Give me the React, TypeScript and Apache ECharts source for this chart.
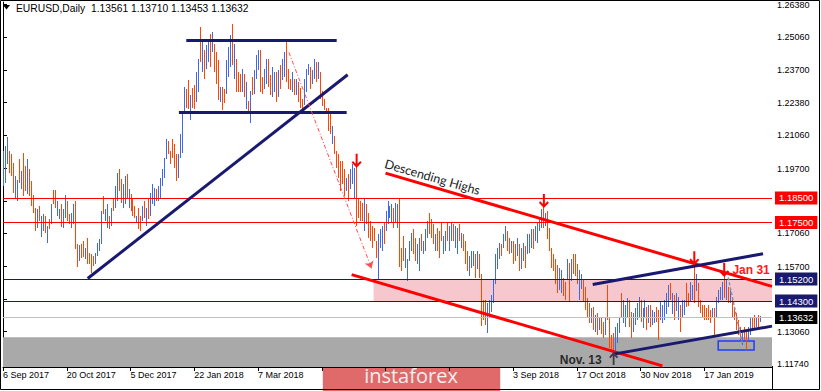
import React, { useEffect, useRef } from "react";
import * as echarts from "echarts";

// ---- Data (daily EURUSD bars, index = trading day) ----
const highs = [
  1.2041,1.2061,1.2097,1.2041,1.2028,1.1992,1.1939,1.1923,1.2008,1.1960,
  1.2032,1.1980,1.2008,1.1968,1.1919,1.1862,1.1810,1.1806,1.1818,1.1777,
  1.1785,1.1777,1.1737,1.1765,1.1826,1.1883,1.1883,1.1838,1.1806,1.1826,
  1.1806,1.1862,1.1838,1.1785,1.1789,1.1826,1.1838,1.1664,1.1660,1.1664,
  1.1676,1.1648,1.1688,1.1627,1.1623,1.1615,1.1627,1.1668,1.1684,1.1798,
  1.1858,1.1806,1.1826,1.1777,1.1810,1.1850,1.1899,1.1951,1.1968,1.1927,
  1.1907,1.1939,1.1947,1.1887,1.1866,1.1850,1.1818,1.1777,1.1810,1.1777,
  1.1818,1.1838,1.1810,1.1846,1.1870,1.1907,1.1891,1.1887,1.1899,1.1931,
  1.1968,1.2012,1.2089,1.2081,1.2041,1.2089,1.2069,1.2028,1.2028,1.2109,
  1.2190,1.2300,1.2292,1.2332,1.2271,1.2296,1.2312,1.2365,1.2417,1.2547,
  1.2486,1.2454,1.2474,1.2498,1.2518,1.2527,1.2478,1.2446,1.2413,1.2304,
  1.2304,1.2292,1.2413,1.2466,1.2514,1.2559,1.2478,1.2417,1.2365,1.2356,
  1.2377,1.2356,1.2324,1.2243,1.2284,1.2344,1.2373,1.2433,1.2454,1.2454,
  1.2344,1.2377,1.2417,1.2417,1.2352,1.2385,1.2365,1.2365,1.2373,1.2393,
  1.2417,1.2446,1.2486,1.2377,1.2336,1.2365,1.2336,1.2336,1.2324,1.2296,
  1.2255,1.2336,1.2377,1.2397,1.2385,1.2373,1.2417,1.2405,1.2405,1.2365,
  1.2284,1.2255,1.2215,1.2215,1.2190,1.2142,1.2101,1.2041,1.2028,1.2000,
  1.2000,1.1968,1.1931,1.1947,1.1968,1.1988,1.1972,1.1992,1.1850,1.1838,
  1.1830,1.1846,1.1826,1.1789,1.1757,1.1737,1.1729,1.1676,1.1704,1.1725,
  1.1737,1.1749,1.1798,1.1838,1.1818,1.1826,1.1810,1.1830,1.1826,1.1850,
  1.1648,1.1696,1.1648,1.1603,1.1676,1.1708,1.1725,1.1688,1.1664,1.1688,
  1.1704,1.1676,1.1725,1.1757,1.1789,1.1765,1.1745,1.1704,1.1729,1.1717,
  1.1749,1.1696,1.1717,1.1749,1.1737,1.1749,1.1745,1.1737,1.1729,1.1745,
  1.1708,1.1704,1.1676,1.1636,1.1615,1.1636,1.1636,1.1623,1.1636,1.1623,
  1.1542,1.1433,1.1433,1.1421,1.1433,1.1453,1.1514,1.1623,1.1648,1.1668,
  1.1664,1.1704,1.1737,1.1717,1.1688,1.1676,1.1676,1.1664,1.1688,1.1664,
  1.1648,1.1668,1.1656,1.1704,1.1704,1.1725,1.1725,1.1737,1.1749,1.1769,
  1.1806,1.1818,1.1789,1.1798,1.1729,1.1648,1.1623,1.1603,1.1575,1.1563,
  1.1555,1.1526,1.1506,1.1603,1.1587,1.1603,1.1623,1.1623,1.1583,1.1555,
  1.1542,1.1522,1.1486,1.1441,1.1421,1.1401,1.1405,1.1372,1.1380,1.1364,
  1.1360,1.1344,1.1364,1.1494,1.1364,1.1291,1.1299,1.1324,1.1340,1.1364,
  1.1465,1.1433,1.1413,1.1441,1.1433,1.1384,1.1380,1.1401,1.1421,1.1445,
  1.1433,1.1401,1.1433,1.1405,1.1413,1.1413,1.1393,1.1384,1.1405,1.1393,
  1.1425,1.1413,1.1433,1.1465,1.1494,1.1502,1.1465,1.1453,1.1465,1.1445,
  1.1413,1.1433,1.1433,1.1502,1.1465,1.1506,1.1494,1.1587,1.1542,1.1502,
  1.1433,1.1413,1.1413,1.1401,1.1413,1.1393,1.1401,1.1401,1.1445,1.1474,
  1.1486,1.1506,1.1542,1.1514,1.1486,1.1474,1.1445,1.1405,1.1380,1.1352,
  1.1324,1.1299,1.1324,1.1303,1.1324,1.1360,1.1364,1.1372,1.1360,1.1372,
  1.1371,
];

const lows = [
  1.1899,1.1911,1.1988,1.1951,1.1939,1.1870,1.1846,1.1838,1.1911,1.1887,
  1.1858,1.1879,1.1866,1.1858,1.1818,1.1789,1.1717,1.1729,1.1757,1.1692,
  1.1717,1.1708,1.1668,1.1725,1.1745,1.1826,1.1810,1.1777,1.1765,1.1733,
  1.1729,1.1769,1.1757,1.1745,1.1729,1.1745,1.1644,1.1571,1.1595,1.1607,
  1.1611,1.1603,1.1583,1.1583,1.1546,1.1575,1.1583,1.1615,1.1636,1.1664,
  1.1785,1.1757,1.1729,1.1725,1.1737,1.1798,1.1810,1.1838,1.1879,1.1830,
  1.1810,1.1826,1.1850,1.1810,1.1798,1.1777,1.1769,1.1749,1.1725,1.1717,
  1.1757,1.1769,1.1737,1.1765,1.1777,1.1826,1.1818,1.1838,1.1838,1.1850,
  1.1899,1.1931,1.2008,1.2028,1.1988,1.2012,1.1972,1.1919,1.1931,1.2012,
  1.2032,1.2190,1.2215,1.2215,1.2170,1.2215,1.2215,1.2243,1.2284,1.2405,
  1.2365,1.2336,1.2377,1.2405,1.2385,1.2446,1.2365,1.2316,1.2251,1.2243,
  1.2211,1.2235,1.2275,1.2344,1.2385,1.2393,1.2336,1.2284,1.2284,1.2284,
  1.2284,1.2263,1.2215,1.2190,1.2154,1.2271,1.2275,1.2336,1.2373,1.2284,
  1.2275,1.2296,1.2316,1.2304,1.2271,1.2263,1.2284,1.2243,1.2263,1.2296,
  1.2332,1.2344,1.2324,1.2296,1.2292,1.2284,1.2271,1.2271,1.2243,1.2215,
  1.2202,1.2231,1.2284,1.2352,1.2296,1.2316,1.2336,1.2324,1.2336,1.2255,
  1.2223,1.2211,1.2190,1.2122,1.2109,1.2069,1.2028,1.1972,1.1931,1.1879,
  1.1907,1.1858,1.1879,1.1838,1.1887,1.1907,1.1850,1.1737,1.1769,1.1757,
  1.1757,1.1717,1.1745,1.1688,1.1676,1.1648,1.1676,1.1607,1.1522,1.1648,
  1.1636,1.1664,1.1717,1.1745,1.1769,1.1749,1.1729,1.1749,1.1729,1.1567,
  1.1555,1.1595,1.1567,1.1514,1.1595,1.1636,1.1623,1.1595,1.1583,1.1555,
  1.1636,1.1623,1.1636,1.1688,1.1704,1.1688,1.1664,1.1636,1.1636,1.1607,
  1.1676,1.1623,1.1636,1.1676,1.1636,1.1676,1.1676,1.1648,1.1623,1.1676,
  1.1648,1.1636,1.1583,1.1555,1.1534,1.1567,1.1575,1.1526,1.1563,1.1526,
  1.1332,1.1352,1.1332,1.1299,1.1360,1.1384,1.1421,1.1502,1.1563,1.1603,
  1.1615,1.1648,1.1676,1.1636,1.1623,1.1627,1.1583,1.1595,1.1615,1.1555,
  1.1563,1.1595,1.1567,1.1623,1.1627,1.1648,1.1644,1.1676,1.1668,1.1717,
  1.1729,1.1729,1.1737,1.1684,1.1636,1.1567,1.1555,1.1502,1.1461,1.1474,
  1.1461,1.1453,1.1433,1.1522,1.1433,1.1514,1.1542,1.1534,1.1502,1.1433,
  1.1482,1.1433,1.1393,1.1364,1.1340,1.1340,1.1312,1.1303,1.1291,1.1312,
  1.1295,1.1279,1.1291,1.1352,1.1239,1.1222,1.1202,1.1222,1.1259,1.1299,
  1.1364,1.1340,1.1324,1.1364,1.1324,1.1279,1.1303,1.1332,1.1352,1.1364,
  1.1344,1.1320,1.1364,1.1312,1.1340,1.1324,1.1332,1.1340,1.1344,1.1271,
  1.1352,1.1340,1.1352,1.1380,1.1405,1.1433,1.1380,1.1352,1.1393,1.1352,
  1.1303,1.1360,1.1372,1.1405,1.1413,1.1425,1.1433,1.1425,1.1474,1.1405,
  1.1380,1.1360,1.1352,1.1352,1.1352,1.1340,1.1360,1.1291,1.1364,1.1421,
  1.1433,1.1433,1.1445,1.1433,1.1421,1.1421,1.1364,1.1352,1.1312,1.1291,
  1.1271,1.1251,1.1271,1.1231,1.1271,1.1291,1.1312,1.1312,1.1324,1.1312,
  1.1345,
];

// 1 = bullish (blue), 0 = bearish (orange)
const bullish = [
  1,1,1,0,0,0,1,1,0,1, 0,0,1,0,0,0,0,1,0,1, 1,0,1,0,1,0,0,1,1,0, 1,1,0,0,1,1,0,0,1,0,
  0,1,0,0,0,0,1,1,1,1, 0,1,1,0,1,0,1,1,0,0, 1,1,0,1,0,0,0,1,0,0, 1,0,1,0,1,1,1,0,1,1,
  1,1,1,0,0,0,0,0,1,1, 1,1,0,0,1,0,0,1,1,0, 1,0,1,1,0,1,0,0,0,1, 0,0,1,1,1,0,1,0,0,0,
  1,0,1,0,1,0,1,1,1,0, 0,1,1,0,0,1,1,0,1,0, 1,1,0,0,0,1,0,1,0,0, 0,1,1,1,0,1,1,0,1,0,
  0,0,0,0,0,1,0,0,0,0, 0,0,1,0,1,1,1,0,0,0, 0,1,0,0,0,0,0,0,1,1, 1,0,1,1,1,1,0,1,1,0,
  0,0,1,1,1,1,0,0,1,1, 0,1,1,1,0,0,0,1,0,0, 0,1,1,0,1,1,0,1,1,0, 1,0,0,0,1,1,1,0,1,0,
  0,0,0,1,1,1,1,1,1,1, 0,1,1,0,0,1,0,0,1,0, 1,1,0,1,1,1,0,1,1,1, 1,0,1,0,0,0,0,0,0,1,
  1,0,0,1,0,1,0,0,0,1, 1,0,0,0,0,1,0,1,0,1, 0,0,1,0,0,0,0,1,1,1, 0,1,1,1,0,0,1,1,1,1,
  0,1,1,0,1,0,1,1,0,0, 1,1,1,1,1,0,1,0,1,1, 0,1,1,0,0,1,1,0,1,0, 0,0,0,0,0,0,1,0,1,1,
  1,1,0,1,0,1,0,0,0,0, 0,1,0,0,1,1,0,0,1,0, 1,
];

// price-scale ticks; the labels of 1.18380 and 1.14380 sit under the level boxes
const priceTicks = [1.2638, 1.2506, 1.237, 1.2238, 1.2106, 1.197, 1.1838, 1.1706, 1.157, 1.1438, 1.1306, 1.1174];
const priceLabelTicks = [1.2638, 1.2506, 1.237, 1.2238, 1.2106, 1.197, 1.1706, 1.157, 1.1306, 1.1174];
const dateTicks = [0, 32, 64, 96, 128, 160, 192, 224, 256, 288, 320, 352];
const dateLabels = ["6 Sep 2017", "20 Oct 2017", "5 Dec 2017", "22 Jan 2018", "7 Mar 2018", "", "", "", "3 Sep 2018", "17 Oct 2018", "30 Nov 2018", "17 Jan 2019"];

const titleText = "EURUSD,Daily";
const lastOHLC = ["1.13561", "1.13710", "1.13453", "1.13632"];

// horizontal levels
const levelValues = [1.185, 1.175, 1.152, 1.143, 1.13632];
const levelLabels = ["1.18500", "1.17500", "1.15200", "1.14300", "1.13632"];
const levelKinds = ["red", "red", "navy", "navy", "price"];

// zones [x1, price1, x2, price2]
const supportZone = [186, 1.152, 386, 1.143];
const grayZone = [1.1161, 1.1283];
const boxZone = [359, 1.1267, 377, 1.1231];

// trend lines [[x1,p1],[x2,p2]]
const rangeTop = [[92, 1.2494], [167.5, 1.2494]];
const rangeBottom = [[88.3, 1.22], [172.5, 1.22]];
const riseLine = [[42.5, 1.1522], [173, 1.2352]];
const dropArrow = [[143.5, 1.2443], [185, 1.1563]];
const descHighs = [[192, 1.1951], [386, 1.149]];
const lowerChannel = [[175, 1.1538], [331, 1.1166]];
const upperRise = [[296, 1.1498], [381.5, 1.1623]];
const lowerRise = [[306.5, 1.1214], [386, 1.1328]];
const janDrop = [[364, 1.1526], [371, 1.1259]];

// arrows [x, price]
const downArrows = [[177.5, 1.2002], [271.5, 1.1838], [347, 1.1605], [362, 1.1557]];
const upArrow = [306.5, 1.1196];

// text notes [x, price]
const descText = [215.5, 1.1935];
const janText = [375.5, 1.1557];
const novText = [290, 1.1192];

const ORANGE = "#ff4500";
const BLUE = "#4169e1";
const NAVY = "#191970";
const RED = "#ff0000";
const FONT = "'Liberation Sans', Arial, sans-serif";
const ARROW_PATH = "path://M4,0 H6 V9.5 L8.6,6.9 L10,8.3 L5,13.3 L0,8.3 L1.4,6.9 L4,9.5 Z";

export default function App() {
  const ref = useRef<HTMLDivElement>(null);

  useEffect(() => {
    if (!ref.current) return;
    const chart = echarts.init(ref.current, null, { renderer: "svg" });

    const barData = highs.map((h, i) => [i, lows[i], h, bullish[i]]);

    const seg = (pts: number[][], color: string, width: number, type: any = "solid", endSym = "none") => [
      { coord: pts[0], symbol: "none", lineStyle: { color, width, type } },
      { coord: pts[1], symbol: endSym, symbolSize: 7 },
    ];

    const levelStyle: Record<string, { line: string; bg: string }> = {
      red: { line: RED, bg: RED },
      navy: { line: NAVY, bg: NAVY },
      price: { line: "#c0c0c0", bg: "#000" },
    };

    const levelLines = levelValues.map((v, k) => {
      const s = levelStyle[levelKinds[k]];
      return {
        yAxis: v,
        lineStyle: { color: s.line, width: 1, type: "solid" },
        label: {
          show: true,
          position: "end",
          formatter: levelLabels[k],
          color: "#fff",
          backgroundColor: s.bg,
          padding: [2, 4, 1, 4],
          fontSize: 9.5,
          fontFamily: FONT,
          distance: 3,
        },
      };
    });

    const textPoint = (pos: number[], text: string, label: any) => ({
      coord: pos,
      symbol: "rect",
      symbolSize: 1,
      itemStyle: { color: "rgba(0,0,0,0)" },
      label: { show: true, position: "inside", formatter: text, ...label },
    });

    chart.setOption({
      animation: false,
      backgroundColor: "#fff",
      grid: { left: 0, right: 49, top: 0, bottom: 24, containLabel: false },
      xAxis: {
        type: "value",
        min: 0,
        max: 386,
        axisLine: { show: true, onZero: false, lineStyle: { color: "#000", width: 1 } },
        axisTick: { show: true, customValues: dateTicks, length: 4, lineStyle: { color: "#000" } },
        axisLabel: {
          show: true,
          customValues: dateTicks,
          formatter: (v: number) => {
            const k = dateTicks.indexOf(Math.round(v));
            return k >= 0 ? dateLabels[k] : "";
          },
          align: "left",
          margin: 3,
          fontSize: 9,
          color: "#000",
          fontFamily: FONT,
        },
        splitLine: { show: false },
      },
      yAxis: {
        type: "value",
        position: "right",
        min: 1.11616,
        max: 1.2648,
        axisLine: { show: true, lineStyle: { color: "#000", width: 1 } },
        axisTick: { show: true, customValues: priceTicks, length: 4, lineStyle: { color: "#000" } },
        axisLabel: {
          show: true,
          customValues: priceLabelTicks,
          formatter: (v: number) => v.toFixed(5),
          margin: 5,
          fontSize: 9,
          color: "#000",
          fontFamily: FONT,
        },
        splitLine: { show: false },
      },
      series: [
        {
          type: "line",
          name: "zones",
          data: [],
          z: 1,
          silent: true,
          markArea: {
            silent: true,
            data: [
              [
                { yAxis: grayZone[0], itemStyle: { color: "#a9a9a9" } },
                { yAxis: grayZone[1] },
              ],
              [
                { xAxis: supportZone[0], yAxis: supportZone[1], itemStyle: { color: "#f6c8ce" } },
                { xAxis: supportZone[2], yAxis: supportZone[3] },
              ],
            ],
          },
        },
        {
          type: "custom",
          name: "EURUSD",
          z: 2,
          clip: true,
          silent: true,
          data: barData,
          encode: { x: 0, y: [1, 2] },
          renderItem: (_p: any, api: any) => {
            const i = api.value(0);
            const lo = api.value(1);
            const hi = api.value(2);
            const up = api.value(3);
            const top = api.coord([i, hi]);
            const bot = api.coord([i, lo]);
            return {
              type: "rect",
              shape: {
                x: Math.round(top[0]),
                y: Math.round(top[1]),
                width: 1,
                height: Math.max(1, Math.round(bot[1] - top[1])),
              },
              style: { fill: up ? BLUE : ORANGE },
            };
          },
        },
        {
          type: "line",
          name: "annotations",
          data: [],
          z: 4,
          silent: true,
          markLine: {
            silent: true,
            precision: 5,
            symbol: ["none", "none"],
            label: { show: false },
            emphasis: { disabled: true },
            data: [
              ...levelLines,
              seg(rangeTop, NAVY, 3),
              seg(rangeBottom, NAVY, 3),
              seg(riseLine, NAVY, 3),
              seg(dropArrow, "#ff4d4d", 1, [4, 2, 1, 2], "arrow"),
              seg(descHighs, RED, 3),
              seg(lowerChannel, RED, 3),
              seg(upperRise, NAVY, 3),
              seg(lowerRise, NAVY, 3),
              seg(janDrop, "#8890a8", 1.5, [3, 2], "none"),
            ],
          },
          markArea: {
            silent: true,
            data: [
              [
                {
                  xAxis: boxZone[0],
                  yAxis: boxZone[1],
                  itemStyle: { color: "rgba(0,0,0,0)", borderColor: "#1f3cff", borderWidth: 1.5 },
                },
                { xAxis: boxZone[2], yAxis: boxZone[3] },
              ],
            ],
          },
          markPoint: {
            silent: true,
            label: { show: false },
            data: [
              ...downArrows.map((p) => ({
                coord: p,
                symbol: ARROW_PATH,
                symbolSize: [10, 14],
                itemStyle: { color: RED },
                label: { show: false },
              })),
              {
                coord: upArrow,
                symbol: ARROW_PATH,
                symbolSize: [9, 13],
                symbolRotate: 180,
                itemStyle: { color: "#3a3a4a" },
                label: { show: false },
              },
              textPoint(descText, "Descending Highs", {
                rotate: -16,
                color: "#222",
                fontSize: 12.5,
                fontFamily: "Lato, sans-serif",
              }),
              textPoint(janText, "Jan 31", {
                color: "#ff1a1a",
                fontSize: 12,
                fontWeight: "bold",
                fontFamily: FONT,
              }),
              textPoint(novText, "Nov. 13", {
                color: "#2a2a2a",
                fontSize: 12,
                fontWeight: "bold",
                fontFamily: FONT,
              }),
            ],
          },
        },
      ],
      graphic: [
        {
          type: "rect",
          z: 50,
          silent: true,
          shape: { x: 0.5, y: 0.5, width: 819, height: 389 },
          style: { fill: "none", stroke: "#000", lineWidth: 1 },
        },
        {
          type: "line",
          z: 50,
          silent: true,
          shape: { x1: 772.5, y1: 366, x2: 772.5, y2: 390 },
          style: { stroke: "#000", lineWidth: 1 },
        },
        {
          type: "polygon",
          z: 50,
          silent: true,
          shape: { points: [[3, 5], [10, 5], [6.5, 9.5]] },
          style: { fill: "#000" },
        },
        {
          type: "text",
          z: 50,
          silent: true,
          style: {
            text: titleText + "  " + lastOHLC.join(" "),
            x: 16,
            y: 8,
            verticalAlign: "middle",
            fontSize: 10.3,
            fontFamily: FONT,
            fill: "#000",
          },
        },
        {
          type: "group",
          z: 60,
          silent: true,
          children: [
            {
              type: "rect",
              shape: { x: 322.5, y: 359.5, width: 178, height: 34 },
              style: { fill: "#e06a6a", stroke: "#e6e6e6", lineWidth: 1 },
            },
            {
              type: "text",
              style: {
                text: "instaforex",
                x: 411,
                y: 375,
                align: "center",
                verticalAlign: "middle",
                fontSize: 20,
                fontFamily: "'Open Sans', sans-serif",
                fill: "#f5eeee",
              },
            },
          ],
        },
      ],
    });

    return () => chart.dispose();
  }, []);

  return (
    <div
      ref={ref}
      style={{ position: "absolute", left: 0, top: 0, width: 821, height: 391, background: "#fff" }}
    />
  );
}
